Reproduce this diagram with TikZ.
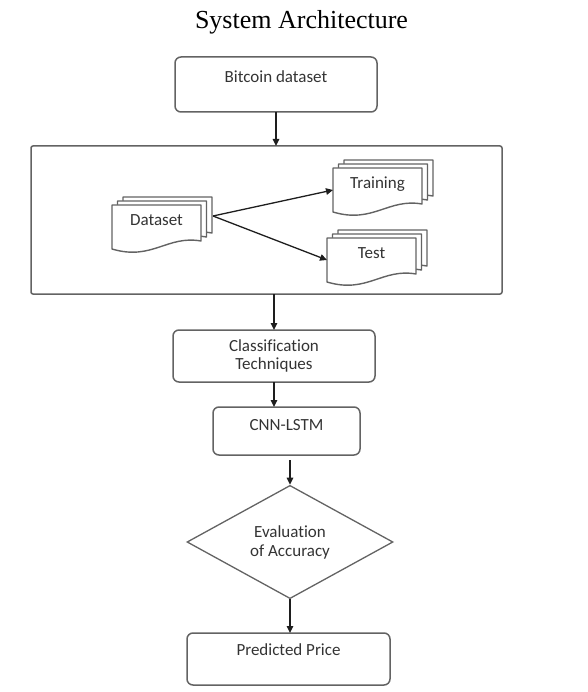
\documentclass[tikz,border=0pt]{standalone}
\usepackage{fontspec}
\setmainfont{Liberation Serif}
\newfontfamily\boxfont[Ligatures=NoCommon]{Carlito}
\usetikzlibrary{arrows.meta,backgrounds,shapes.geometric}
\definecolor{Edge}{HTML}{636363}
\definecolor{Ink}{HTML}{1E1E1E}
\definecolor{Label}{HTML}{333333}

\tikzset{
  stepbox/.style={draw=Edge,line width=1.5pt,rounded corners=6pt,inner ysep=0pt,
    font=\boxfont\fontsize{17}{18}\selectfont,text=Label,outer sep=0pt},
  decision/.style={diamond,draw=Edge,line width=1.3pt,inner sep=0pt,align=center,
    font=\boxfont\fontsize{17}{19}\selectfont,text=Label},
  docbox/.style={inner sep=0pt,outer sep=0pt,minimum width=89pt,
    text height=20.5pt,text depth=23.5pt,
    font=\boxfont\fontsize{17}{18}\selectfont,text=Label},
  docline/.style={draw=Edge,line width=1.4pt,fill=white,line join=round},
  docstack/.pic={
    \foreach \k in {2,1,0}
      \draw[docline,shift={(5.5*\k,-4*\k)}] (0,0) -- (89,0) -- (89,36)
        .. controls (55,30) and (40,56) .. (0,44) -- cycle;
  },
  arr/.style={-{Triangle[length=7pt,width=6.5pt]},draw=Ink,line width=1.3pt}
}

\begin{document}
\begin{tikzpicture}[x=1pt,y=-1pt]
  \useasboundingbox (0,0) rectangle (587,692);
  \node[anchor=base,font=\fontsize{26}{30}\selectfont] (title) at (301.5,29)
    {System Architecture};

  \node[stepbox,anchor=base,minimum width=202pt,text height=25.5pt,text depth=29.5pt]
    (btc) at (276,82.5) {Bitcoin dataset};

  % splitting of the data
  \node[draw=Edge,line width=1.5pt,rounded corners=2pt,minimum width=471pt,
    minimum height=148pt,outer sep=0pt] (prep) at (266.5,220) {};
  \foreach \nm/\x/\y/\lab in {
    data/156.5/227/Dataset,train/377.5/190/Training,test/371.5/260/Test}
    {
      \node[docbox] (\nm) at (\x,\y) {\lab};
      \begin{scope}[on background layer]
        \pic at (\nm.north west) {docstack};
      \end{scope}
    }
  \coordinate (split) at (213,216);
  \draw[arr] (split) -- (train.west);
  \draw[arr] (split) -- (test.west);

  \node[stepbox,align=center,minimum width=202pt,minimum height=52pt]
    (cls) at (274,356) {Classification\\Techniques};
  \node[stepbox,anchor=base,minimum width=147pt,text height=23.5pt,text depth=24.5pt]
    (cnn) at (286.5,430.5) {CNN-LSTM};
  \node[decision,minimum width=206pt,minimum height=101pt]
    (eval) at (290,542) {Evaluation\\of Accuracy};
  \node[stepbox,anchor=base,minimum width=203pt,text height=22.5pt,text depth=29.5pt]
    (price) at (288.5,655.5) {Predicted Price};

  \draw[arr] (btc) -- (btc |- prep.north);
  \draw[arr] (prep.south -| cls) -- (cls);
  \draw[arr] (cls) -- (cls |- cnn.north);
  \draw[arr] ([yshift=-5pt]cnn.south -| eval) -- (eval);
  \draw[arr] (eval.south) -- (eval.south |- price.north);
\end{tikzpicture}
\end{document}
